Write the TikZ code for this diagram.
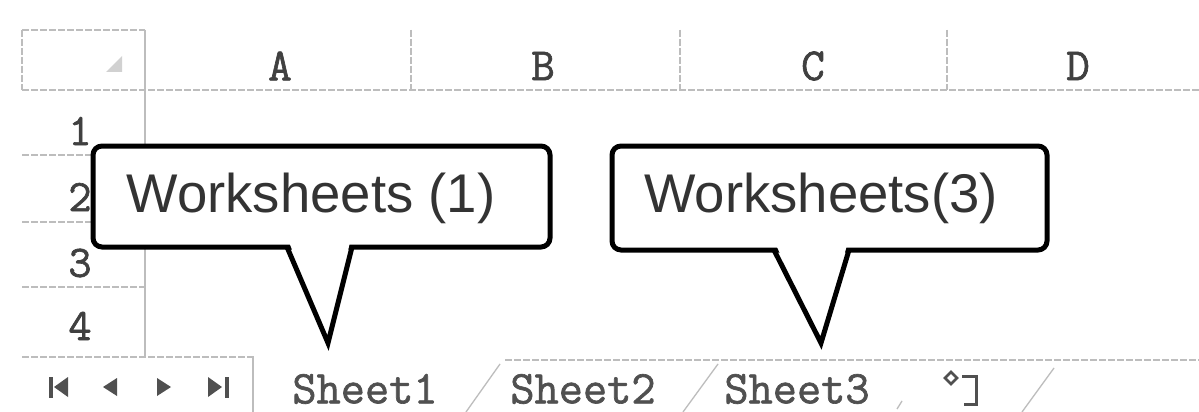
\documentclass[tikz,border=0pt]{standalone}
\usepackage{fontspec}
\newfontfamily\calloutfont{Liberation Sans}
\newfontfamily\sheetmono[FakeBold=1.4]{Latin Modern Mono}
\definecolor{gridgray}{HTML}{BDBDBD}
\definecolor{labelgray}{HTML}{404040}
\definecolor{tabgray}{HTML}{505050}
\tikzset{
  gridline/.style={draw=gridgray, line width=1.3pt, dash pattern=on 7pt off 2pt},
  solidgrid/.style={draw=gridgray, line width=1.3pt},
  colhead/.style={font=\sheetmono\fontsize{46}{50}\selectfont, text=labelgray, inner sep=0pt},
  rowhead/.style={font=\sheetmono\fontsize{45}{48}\selectfont, text=labelgray, inner sep=0pt},
  tablabel/.style={font=\sheetmono\fontsize{47}{50}\selectfont, text=tabgray, inner sep=0pt},
  navbtn/.style={fill=tabgray, draw=none},
  calloutbox/.style={draw=black, line width=5pt, rounded corners=9pt, fill=white},
  calloutptr/.style={draw=black, line width=5pt, line join=miter, miter limit=10},
  callouttext/.style={font=\calloutfont\fontsize{54.5}{60}\selectfont, text=black!80, inner sep=0pt},
}
\begin{document}
\begin{tikzpicture}[x=1pt, y=-1pt]
  \useasboundingbox (0,0) rectangle (1199,412);
  \fill[white] (0,0) rectangle (1199,412);

  % column header row
  \draw[gridline] (22,30) -- (145,30);
  \draw[gridline] (22,30) -- (22,90);
  \draw[gridline] (22,90) -- (1199,90);
  \draw[solidgrid] (145,30) -- (145,357);
  \draw[gridline] (411,30) -- (411,90);
  \draw[gridline] (680,30) -- (680,90);
  \draw[gridline] (947,30) -- (947,90);
  \fill[gridgray!70] (122,56) -- (122,72) -- (106,72) -- cycle;

  \node[colhead] (colA) at (280,66) {A};
  \node[colhead] (colB) at (543,66) {B};
  \node[colhead] (colC) at (813,66) {C};
  \node[colhead] (colD) at (1078,66) {D};

  % row header column
  \draw[gridline] (22,155) -- (130,155);
  \draw[gridline] (22,222) -- (130,222);
  \draw[gridline] (22,287) -- (145,287);
  \draw[gridline] (22,357) -- (255,357);

  \node[rowhead] (row1) at (80,131) {1};
  \node[rowhead] (row2) at (80,197) {2};
  \node[rowhead] (row3) at (80,263) {3};
  \node[rowhead] (row4) at (80,326) {4};

  % sheet tab bar
  \draw[solidgrid] (253,357) -- (253,412);
  \draw[gridline] (505,360) -- (1199,360);
  \draw[solidgrid] (466,412) -- (500,364);
  \draw[solidgrid] (683,412) -- (718,364);
  \draw[solidgrid] (1022,412) -- (1054,368);
  \draw[gridgray, line width=1.3pt] (897,409) -- (902,401);

  % navigation buttons
  \fill[tabgray] (49,377) rectangle (53,398);
  \path[navbtn] (54,387) -- (68,377) -- (68,397) -- cycle;
  \path[navbtn] (103,387) -- (117,378) -- (117,396) -- cycle;
  \path[navbtn] (157,378) -- (157,396) -- (171,387) -- cycle;
  \path[navbtn] (208,377) -- (208,397) -- (222,387) -- cycle;
  \fill[tabgray] (225,377) rectangle (229,398);

  \node[tablabel] (tab1) at (365,389) {Sheet1};
  \node[tablabel] (tab2) at (583,389) {Sheet2};
  \node[tablabel] (tab3) at (797,389) {Sheet3};

  % insert-sheet icon
  \draw[tabgray, line width=2.5pt] (951,372) -- (957,378) -- (951,384) -- (945,378) -- cycle;
  \draw[tabgray, line width=3pt] (962,376) -- (976,376) -- (976,404) -- (964,404);

  % callout for the first sheet
  \draw[calloutbox] (93,146) rectangle (550,247);
  \fill[white] (289,242) -- (350,242) -- (328,340) -- cycle;
  \draw[calloutptr] (287,247) -- (328,343) -- (352,247);
  \node[callouttext] (ws1) at (311,198) {Worksheets (1)};

  % callout for the third sheet
  \draw[calloutbox] (612,146) rectangle (1047,250);
  \fill[white] (776,245) -- (847,245) -- (821,340) -- cycle;
  \draw[calloutptr] (774,250) -- (821,343) -- (849,250);
  \node[callouttext] (ws3) at (821,198) {Worksheets(3)};
\end{tikzpicture}
\end{document}
